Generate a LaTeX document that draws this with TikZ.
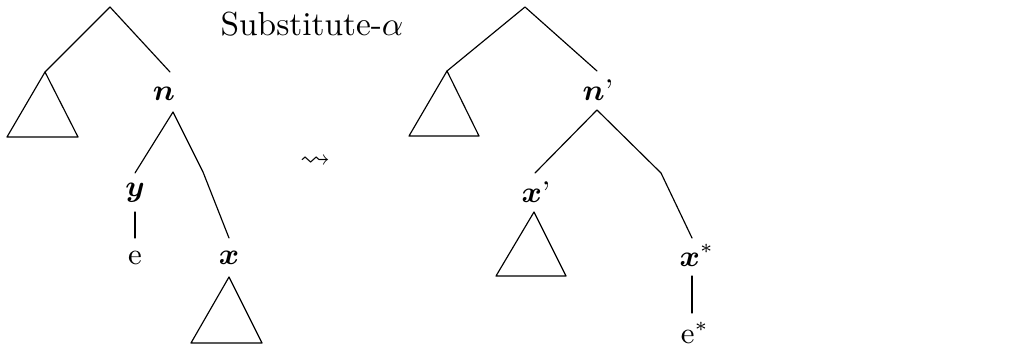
\documentclass[tikz,border=0pt]{standalone}
\usepackage{amsmath,amssymb,bm}
\begin{document}
\begin{tikzpicture}[x=0.3pt,y=-0.3pt,
  lbl/.style={inner sep=0pt, font=\small},
  edge/.style={line width=0.35pt, line join=round, line cap=round}]
\useasboundingbox (0,0) rectangle (1011,357);
% ---------- left tree ----------
\coordinate (r1) at (110,7);
\coordinate (t1a) at (45,72);
\coordinate (t1l) at (7,137);
\coordinate (t1r) at (78,137);
\coordinate (n1top) at (170,72);
\node[lbl] (n1) at (164,94) {$\bm{n}$};
\coordinate (n1b) at (173,112);
\coordinate (y1top) at (135,173);
\node[lbl] (y1) at (135,193) {$\bm{y}$};
\coordinate (y1b) at (135,212);
\coordinate (e1top) at (135,238);
\node[lbl] (e1) at (135,258) {e};
\coordinate (k1) at (203,172);
\coordinate (x1top) at (229,238);
\node[lbl] (x1) at (229,258) {$\bm{x}$};
\coordinate (t2a) at (229,277);
\coordinate (t2l) at (191,343);
\coordinate (t2r) at (262,343);
\draw[edge] (t1a) -- (r1) -- (n1top);
\draw[edge] (t1a) -- (t1l) -- (t1r) -- cycle;
\draw[edge] (y1top) -- (n1b) -- (k1) -- (x1top);
\draw[edge] (y1b) -- (e1top);
\draw[edge] (t2a) -- (t2l) -- (t2r) -- cycle;
% ---------- label and arrow ----------
\node[inner sep=0pt, anchor=west] (sub) at (220,24) {Substitute-$\alpha$};
\node[lbl] (arr) at (315,162) {$\leadsto$};
% ---------- right tree ----------
\coordinate (r2) at (525,7);
\coordinate (t3a) at (447,71);
\coordinate (t3l) at (409,136);
\coordinate (t3r) at (479,136);
\coordinate (n2top) at (597,71);
\node[lbl] (n2) at (598,90) {$\bm{n}$'};
\coordinate (n2b) at (597,110);
\coordinate (x2top) at (535,173);
\node[lbl] (x2) at (536,192) {$\bm{x}$'};
\coordinate (t4a) at (534,212);
\coordinate (t4l) at (496,276);
\coordinate (t4r) at (566,276);
\coordinate (k2) at (661,173);
\coordinate (x3top) at (692,238);
\node[lbl] (x3) at (697,255) {$\bm{x}^{\ast}$};
\coordinate (x3b) at (692,276);
\coordinate (e2top) at (692,313);
\node[lbl] (e2) at (695,333) {e$^{\ast}$};
\draw[edge] (t3a) -- (r2) -- (n2top);
\draw[edge] (t3a) -- (t3l) -- (t3r) -- cycle;
\draw[edge] (x2top) -- (n2b) -- (k2) -- (x3top);
\draw[edge] (t4a) -- (t4l) -- (t4r) -- cycle;
\draw[edge] (x3b) -- (e2top);
\end{tikzpicture}
\end{document}
